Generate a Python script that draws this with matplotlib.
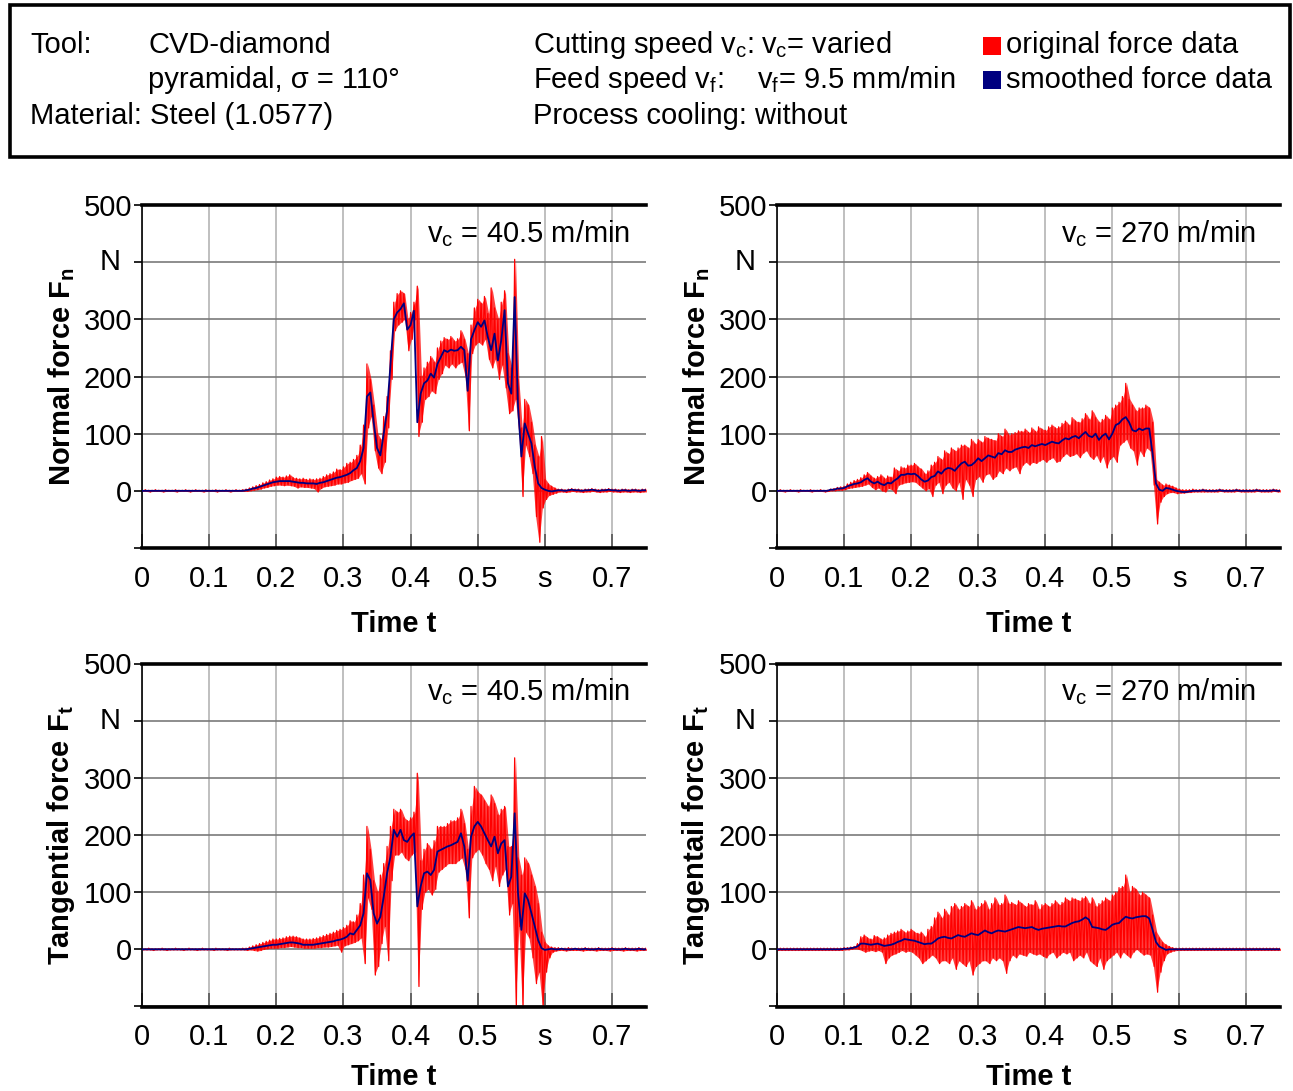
import numpy as np
import matplotlib
matplotlib.use('Agg')
import matplotlib.pyplot as plt
from matplotlib.patches import Rectangle

plt.rcParams['font.family'] = ['Liberation Sans', 'DejaVu Sans']
plt.rcParams['mathtext.fontset'] = 'custom'
plt.rcParams['mathtext.rm'] = 'Liberation Sans'
plt.rcParams['mathtext.it'] = 'Liberation Sans:italic'
plt.rcParams['mathtext.bf'] = 'Liberation Sans:bold'

# sampling step of the read-off data (s); force values in N
DT = 0.005

# ---- normal force, vc = 40.5 m/min ----
fn_40_smooth = [
    0, 0, 0, 0, 0, 0, 0, 0, 0, 0, 0, 0, 0, 0, 0, 0, 0, 0, 0, 0, 0, 0, 0, 0, 0, 0, 0, 0, 0, 0,
    0, 1, 2, 4, 5, 7, 9, 11, 13, 15,
    16, 17, 17, 17, 17, 16, 15, 14, 14, 13,
    13, 13, 12, 14, 15, 17, 19, 21, 23, 24,
    26, 28, 31, 36, 40, 52, 75, 165, 172, 120,
    75, 62, 100, 140, 220, 300, 312, 318, 328, 282,
    290, 315, 120, 170, 188, 193, 205, 198, 222, 234,
    246, 243, 247, 245, 246, 252, 246, 175, 265, 281,
    295, 287, 298, 269, 246, 275, 228, 263, 316, 188,
    170, 339, 147, 60, 118, 100, 83, 42, 13, 5,
    2, 0, -1, 0, 1, 1, 0, 1, 2, 1,
    1, 0, 1, 1, 2, 1, 0, 1, 1, 2,
    1, 1, 0, 1, 1, 0, 1, 1, 0, 1, 1]
fn_40_hi = [
    1, 2, 1, 1, 2, 1, 1, 2, 1, 1, 2, 1, 1, 2, 1, 1, 2, 1, 1, 2, 1, 1, 2, 1, 1, 2, 1, 1, 2, 1,
    2, 3, 5, 7, 9, 11, 14, 16, 19, 21,
    24, 25, 24, 26, 28, 23, 22, 21, 22, 20,
    21, 20, 21, 22, 25, 28, 30, 33, 38, 37,
    42, 48, 50, 55, 62, 80, 115, 222, 195, 150,
    100, 90, 130, 165, 245, 330, 345, 350, 345, 300,
    312, 330, 358, 200, 215, 225, 235, 225, 250, 262,
    268, 265, 270, 262, 266, 280, 265, 240, 290, 320,
    335, 328, 340, 310, 355, 320, 300, 330, 350, 240,
    215, 405, 195, 110, 160, 150, 120, 80, 60, 95,
    20, 12, 8, 5, 3, 3, 2, 3, 4, 3,
    3, 2, 3, 3, 4, 3, 2, 3, 3, 4,
    3, 3, 2, 3, 3, 2, 3, 3, 2, 3, 3]
fn_40_lo = [
    -1, -1, -2, -1, -1, -1, -2, -1, -1, -1, -2, -1, -1, -1, -2, -1, -1, -1, -2, -1,
    -1, -1, -2, -1, -1, -1, -2, -1, -1, -1,
    -1, -1, 0, 1, 2, 3, 5, 6, 8, 9,
    10, 10, 9, 10, 9, 8, 5, 7, 6, 6,
    5, 4, -2, 4, 7, 8, 9, 10, 12, 12,
    14, 15, 18, 20, 22, 30, 12, 110, 130, 70,
    40, 30, 50, 110, 195, 280, 290, 295, 300, 245,
    265, 300, 95, 120, 160, 165, 175, 170, 195, 205,
    220, 215, 222, 215, 222, 225, 200, 105, 240, 255,
    260, 255, 265, 230, 215, 230, 195, 220, 180, 135,
    140, 160, 100, -10, 80, 60, 30, -45, -90, -30,
    -15, -8, -6, -4, -2, -2, -3, -2, -1, -2,
    -2, -3, -2, -2, -1, -2, -3, -2, -2, -1,
    -2, -2, -3, -2, -2, -3, -2, -2, -3, -2, -2]

# ---- normal force, vc = 270 m/min ----
fn_270_smooth = [
    0, 0, 0, 0, 0, 0, 0, 0, 0, 0, 0, 0, 0, 0, 0, 0,
    2, 2, 4, 4, 5, 8, 10, 12, 13, 15, 19, 22, 16, 13,
    16, 12, 10, 14, 13, 18, 22, 28, 28, 30,
    29, 30, 26, 20, 16, 18, 24, 26, 34, 30,
    37, 40, 39, 35, 42, 48, 51, 44, 45, 50,
    57, 52, 57, 62, 60, 58, 66, 64, 71, 68,
    68, 72, 74, 76, 77, 75, 80, 78, 80, 82,
    80, 83, 86, 84, 83, 88, 92, 90, 94, 96,
    92, 98, 103, 96, 94, 100, 89, 96, 100, 90,
    100, 115, 118, 125, 129, 120, 106, 104, 109, 106,
    109, 109, 65, 13, 2, 0, 5, 4, 2, 0,
    -1, -2, -2, -1, 0, 0, 0, 1, 0, 0,
    0, 0, 1, 0, 0, 0, 0, 1, 0, 0,
    0, 0, 0, 1, 0, 0, 0, 0, 1, 0, 0]
fn_270_hi = [
    1, 2, 1, 1, 2, 1, 1, 2, 1, 1, 2, 1, 1, 2, 1, 1,
    3, 4, 6, 7, 8, 12, 15, 18, 20, 23, 28, 32, 26, 22,
    25, 28, 22, 26, 24, 40, 35, 42, 40, 45,
    45, 48, 42, 38, 30, 35, 45, 50, 60, 55,
    70, 65, 75, 70, 75, 80, 80, 75, 90, 82,
    90, 85, 95, 92, 90, 88, 100, 95, 108, 98,
    100, 102, 105, 104, 108, 102, 110, 104, 112, 108,
    106, 112, 115, 110, 112, 118, 122, 115, 128, 122,
    120, 126, 135, 125, 140, 128, 120, 125, 132, 125,
    145, 150, 155, 165, 188, 160, 150, 140, 145, 145,
    150, 145, 120, 20, 15, 10, 12, 10, 8, 5,
    3, 2, 2, 2, 3, 2, 2, 3, 2, 2,
    2, 2, 3, 2, 2, 2, 2, 3, 2, 2,
    2, 2, 2, 3, 2, 2, 2, 2, 3, 2, 2]
fn_270_lo = [
    -1, -1, -2, -1, -1, -1, -2, -1, -1, -1, -2, -1, -1, -1, -2, -1,
    0, 0, 1, 1, 2, 4, 5, 6, 7, 8, 10, 12, 6, 2,
    5, 0, -2, 4, 2, -5, 10, 12, 14, 15,
    16, 15, 10, 5, 0, 4, -10, 10, 15, -5,
    10, 15, 5, 0, 15, -15, 20, 10, -10, 20,
    25, 15, 28, 30, 20, 25, 35, 30, 40, 35,
    40, 42, 30, 45, 50, 45, 50, 48, 52, 55,
    50, 55, 58, 50, 52, 60, 65, 60, 62, 65,
    58, 66, 70, 60, 55, 62, 50, 60, 40, 55,
    60, 50, 80, 85, 90, 75, 70, 45, 70, 60,
    75, 70, 10, -58, -20, -10, -5, -3, -3, -5,
    -4, -4, -3, -3, -2, -2, -2, -2, -2, -2,
    -2, -2, -1, -2, -2, -2, -2, -1, -2, -2,
    -2, -2, -2, -1, -2, -2, -2, -2, -1, -2, -2]

# ---- tangential force, vc = 40.5 m/min ----
ft_40_smooth = [
    0, 0, 0, 0, 0, 0, 0, 0, 0, 0, 0, 0, 0, 0, 0, 0, 0, 0, 0, 0, 0, 0, 0, 0, 0, 0, 0, 0, 0, 0,
    0, 0, 1, 2, 3, 4, 5, 6, 7, 8,
    8, 9, 10, 11, 12, 12, 11, 10, 8, 8,
    8, 8, 9, 10, 11, 12, 13, 14, 16, 17,
    19, 22, 28, 26, 34, 42, 63, 133, 121, 63,
    45, 57, 92, 133, 162, 209, 197, 209, 191, 188,
    197, 203, 75, 110, 133, 136, 130, 139, 171, 174,
    177, 180, 182, 185, 188, 203, 180, 120, 197, 215,
    223, 215, 203, 191, 180, 197, 168, 185, 191, 110,
    127, 238, 98, 34, 98, 86, 63, 40, 16, 2,
    -1, 0, 1, 0, 0, 1, 0, 0, 0, 1,
    0, 0, 1, 0, 0, 0, 1, 0, 0, 0,
    1, 0, 0, 0, 1, 0, 0, 0, 1, 0, 0]
ft_40_hi = [
    1, 1, 2, 1, 1, 1, 2, 1, 1, 1, 2, 1, 1, 1, 2, 1, 1, 1, 2, 1, 1, 1, 2, 1, 1, 1, 2, 1, 1, 1,
    2, 2, 4, 6, 8, 10, 12, 14, 16, 18,
    18, 19, 20, 22, 23, 23, 22, 20, 18, 18,
    18, 19, 20, 22, 24, 26, 28, 30, 33, 35,
    38, 42, 50, 48, 60, 80, 130, 215, 175, 120,
    100, 130, 150, 180, 215, 245, 240, 245, 230, 225,
    230, 240, 308, 155, 175, 185, 175, 190, 215, 215,
    215, 220, 225, 225, 230, 245, 220, 175, 250, 285,
    275, 270, 260, 250, 270, 255, 235, 245, 250, 180,
    180, 335, 160, 130, 160, 150, 130, 110, 80, 30,
    12, 6, 4, 3, 3, 2, 2, 3, 2, 2,
    2, 2, 3, 2, 2, 2, 3, 2, 2, 2,
    3, 2, 2, 2, 3, 2, 2, 2, 3, 2, 2]
ft_40_lo = [
    -1, -1, -1, -2, -1, -1, -1, -2, -1, -1, -1, -1, -2, -1, -1, -1, -2, -1, -1, -1,
    -1, -2, -1, -1, -1, -2, -1, -1, -1, -1,
    -1, -2, -1, -2, -3, -2, 0, 1, 2, 2,
    2, 3, 3, 4, 5, 4, 3, 3, 2, 2,
    2, 2, 3, 3, 4, 4, 5, 6, 7, -5,
    6, 8, 10, 12, 15, 20, -25, 90, 70, -45,
    -30, 10, 40, -20, 120, 165, 165, 170, 160, 155,
    165, 170, -65, 70, 100, 105, 95, 105, 135, 140,
    145, 150, 150, 150, 155, 160, 140, 55, 160, 170,
    175, 165, 150, 140, 120, 145, 110, 130, 140, 60,
    80, -100, 40, -100, 30, 20, -15, -60, -40, -100,
    -40, -15, -5, -3, -2, -2, -3, -2, -2, -2,
    -2, -3, -2, -2, -2, -3, -2, -2, -2, -3,
    -2, -2, -2, -3, -2, -2, -2, -3, -2, -2, -2]

# ---- tangential force, vc = 270 m/min ----
ft_270_smooth = [
    0, 0, 0, 0, 0, 0, 0, 0, 0, 0, 0, 0, 0, 0, 0, 0, 0, 0, 0, 0,
    1, 1, 2, 3, 5, 10, 10, 9, 8, 9,
    10, 8, 6, 7, 8, 10, 13, 15, 18, 17,
    16, 15, 13, 11, 9, 10, 10, 14, 19, 21,
    22, 20, 19, 22, 25, 23, 22, 25, 28, 26,
    25, 29, 33, 30, 28, 31, 33, 32, 31, 33,
    35, 37, 39, 38, 37, 38, 39, 36, 34, 36,
    37, 38, 39, 40, 41, 40, 40, 43, 46, 48,
    49, 52, 56, 52, 39, 38, 37, 35, 34, 38,
    43, 45, 46, 52, 57, 55, 54, 56, 57, 58,
    58, 54, 34, 13, 5, 2, -1, 0, 0, 0,
    0, 0, 0, 0, 0, 0, 0, 0, 0, 0,
    0, 0, 0, 0, 0, 0, 0, 0, 0, 0,
    0, 0, 0, 0, 0, 0, 0, 0, 0, 0, 0]
ft_270_hi = [
    2, 2, 2, 2, 2, 2, 2, 2, 2, 2, 2, 2, 2, 2, 2, 2, 2, 2, 2, 2,
    3, 3, 4, 5, 10, 22, 25, 20, 18, 24,
    22, 18, 20, 25, 28, 30, 32, 35, 30, 32,
    35, 30, 28, 30, 22, 35, 40, 55, 65, 55,
    70, 60, 75, 80, 70, 75, 80, 75, 85, 70,
    75, 80, 85, 70, 80, 90, 78, 80, 95, 80,
    82, 78, 85, 80, 75, 80, 78, 85, 70, 78,
    80, 75, 80, 85, 78, 82, 90, 85, 90, 88,
    85, 90, 92, 80, 90, 75, 80, 85, 90, 85,
    95, 100, 108, 110, 130, 100, 110, 105, 95, 100,
    95, 90, 60, 30, 20, 12, 8, 5, 3, 2,
    2, 2, 2, 2, 2, 2, 2, 2, 2, 2,
    2, 2, 2, 2, 2, 2, 2, 2, 2, 2,
    2, 2, 2, 2, 2, 2, 2, 2, 2, 2, 2]
ft_270_lo = [
    -2, -2, -2, -2, -2, -2, -2, -2, -2, -2, -2, -2, -2, -2, -2, -2, -2, -2, -2, -2,
    -1, -1, 0, 1, 0, -2, -5, -3, -2, -4,
    -2, -5, -25, -15, -10, -8, -5, -2, -5, -3,
    -5, -10, -15, -25, -20, -15, -10, -15, -25, -20,
    -20, -25, -15, -35, -20, -25, -30, -20, -45, -30,
    -25, -20, -20, -25, -15, -20, -15, -20, -42, -20,
    -10, -15, -8, -10, -12, -5, -8, -10, -8, -12,
    -15, -8, -5, -15, -10, -5, -8, -5, -20, -15,
    -10, -15, -5, -20, -25, -30, -15, -35, -20, -15,
    -10, -5, -15, -5, -10, -15, -5, 0, -5, -10,
    -8, -10, -30, -75, -40, -20, -8, -5, -3, -2,
    -2, -2, -2, -2, -2, -2, -2, -2, -2, -2,
    -2, -2, -2, -2, -2, -2, -2, -2, -2, -2,
    -2, -2, -2, -2, -2, -2, -2, -2, -2, -2, -2]

x_ticks = [0, 0.1, 0.2, 0.3, 0.4, 0.5, 0.6, 0.7]
x_ticklabels = ['0', '0.1', '0.2', '0.3', '0.4', '0.5', 's', '0.7']
y_ticks = [-100, 0, 100, 200, 300, 400, 500]
y_ticklabels = ['', '0', '100', '200', '300', '', '500']

RED = '#ff0000'
NAVY = '#000080'
FS = 21

W, H = 1293, 1091
fig = plt.figure(figsize=(W / 100, H / 100), dpi=100)


def px_axes(left, top, right, bottom):
    return fig.add_axes([left / W, 1 - bottom / H, (right - left) / W, (bottom - top) / H])


def draw(ax, smooth, hi, lo, ylabel, vc, vc_x, xlab_y):
    t = np.arange(len(smooth)) * DT
    t_raw = np.empty(2 * len(hi))
    f_raw = np.empty(2 * len(hi))
    t_raw[0::2] = t
    t_raw[1::2] = t + DT / 2
    f_raw[0::2] = hi
    f_raw[1::2] = lo
    # the raw signal: dense band between its peaks plus the zigzag through them
    ax.fill_between(t + DT / 4, lo, hi, color=RED, alpha=0.75, lw=0, zorder=2)
    ax.plot(t_raw, f_raw, color=RED, lw=0.9, zorder=2)
    ax.plot(t, smooth, color=NAVY, lw=1.3, zorder=3)

    ax.set_xlim(0, 0.75)
    ax.set_ylim(-100, 500)
    ax.set_xticks(x_ticks)
    ax.set_xticklabels(x_ticklabels)
    ax.set_yticks(y_ticks)
    ax.set_yticklabels(y_ticklabels)
    ax.set_axisbelow(True)
    ax.yaxis.grid(True, color='#7a7a7a', lw=1.2)
    ax.xaxis.grid(True, color='#b4b4b4', lw=1.2)
    ax.tick_params(axis='y', direction='out', length=6, width=1.2, labelsize=FS, pad=1)
    ax.tick_params(axis='x', direction='in', length=10, width=1.2, color='#555555',
                   labelsize=FS, pad=12)
    for s in ('top', 'bottom'):
        ax.spines[s].set_linewidth(2.6)
    ax.spines['left'].set_linewidth(1.2)
    ax.spines['right'].set_visible(False)

    ax.text(-0.064, 400, 'N', transform=ax.get_yaxis_transform(), ha='center', va='center',
            fontsize=FS)
    ax.text(vc_x, 0.918, vc, transform=ax.transAxes, ha='right', va='center', fontsize=FS)
    ax.set_ylabel(ylabel, fontsize=FS, fontweight='bold')
    ax.yaxis.set_label_coords(-0.13, 0.5)
    ax.set_xlabel('Time t', fontsize=FS, fontweight='bold')
    ax.xaxis.set_label_coords(0.5, xlab_y)


ax1 = px_axes(142, 205, 645.6, 548)
ax2 = px_axes(777, 205, 1280, 548)
ax3 = px_axes(142, 663.5, 645.6, 1006.5)
ax4 = px_axes(777, 663.5, 1280, 1006.5)

draw(ax1, fn_40_smooth, fn_40_hi, fn_40_lo, r'Normal force F$\mathregular{_n}$',
     r'v$\mathregular{_c}$ = 40.5 m/min', 0.969, -0.18)
draw(ax2, fn_270_smooth, fn_270_hi, fn_270_lo, r'Normal force F$\mathregular{_n}$',
     r'v$\mathregular{_c}$ = 270 m/min', 0.952, -0.18)
draw(ax3, ft_40_smooth, ft_40_hi, ft_40_lo, r'Tangential force F$\mathregular{_t}$',
     r'v$\mathregular{_c}$ = 40.5 m/min', 0.969, -0.165)
draw(ax4, ft_270_smooth, ft_270_hi, ft_270_lo, r'Tangentail force F$\mathregular{_t}$',
     r'v$\mathregular{_c}$ = 270 m/min', 0.952, -0.165)

# header box
fig.patches.append(Rectangle((10 / W, 1 - 157 / H), 1280 / W, 152 / H, fill=False,
                             lw=2.6, ec='black', transform=fig.transFigure))


def htext(x, y, s):
    fig.text(x / W, 1 - y / H, s, ha='left', va='center', fontsize=FS)


htext(30, 45, 'Tool:')
htext(148, 45, 'CVD-diamond')
htext(148, 80, 'pyramidal, σ = 110°')
htext(30, 116, 'Material: Steel (1.0577)')
htext(533, 45, r'Cutting speed v$\mathregular{_c}$:')
htext(761, 45, r'v$\mathregular{_c}$= varied')
htext(533, 80, r'Feed speed v$\mathregular{_f}$:')
htext(757, 80, r'v$\mathregular{_f}$= 9.5 mm/min')
htext(533, 116, 'Process cooling: without')
fig.patches.append(Rectangle((983 / W, 1 - 55 / H), 18 / W, 18 / H, fc=RED, ec='none',
                             transform=fig.transFigure))
fig.patches.append(Rectangle((983 / W, 1 - 89 / H), 18 / W, 18 / H, fc=NAVY, ec='none',
                             transform=fig.transFigure))
htext(1006, 45, 'original force data')
htext(1006, 80, 'smoothed force data')

fig.savefig('out.png', dpi=100)
